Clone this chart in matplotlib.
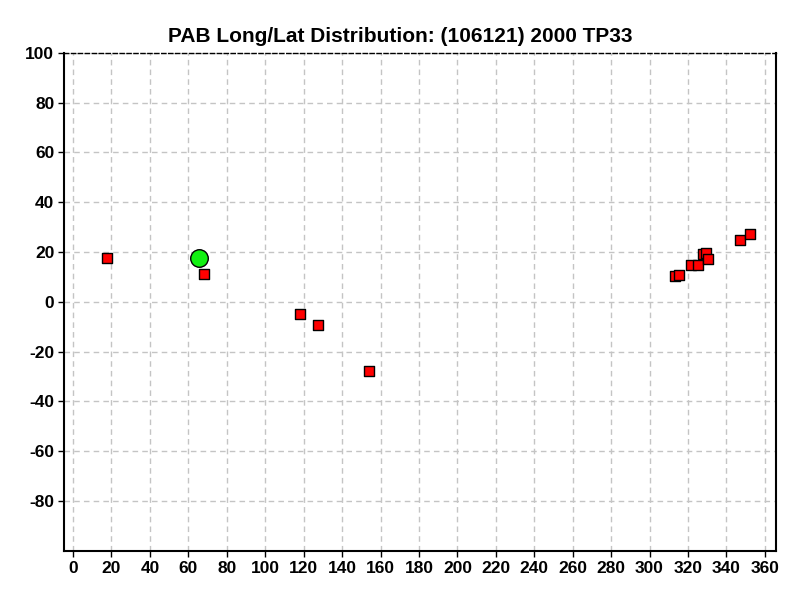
import matplotlib
matplotlib.use("Agg")
import matplotlib.pyplot as plt

plt.rcParams['font.family'] = ['Liberation Sans', 'DejaVu Sans']
plt.rcParams['axes.unicode_minus'] = False

# asteroid position (green) and PAB points (red)
obj_long = [65.6]
obj_lat = [17.7]

pab_long = [17.7, 68.2, 118.1, 127.5, 154.0,
            313.2, 315.5, 321.6, 325.3, 327.9, 329.2, 330.6, 347.1, 352.3]
pab_lat = [17.7, 11.2, -4.8, -9.2, -27.7,
           10.2, 10.8, 14.7, 14.7, 19.0, 19.6, 17.2, 24.9, 27.2]

x_ticks = list(range(0, 361, 20))
y_ticks = list(range(-80, 101, 20))

fig = plt.figure(figsize=(8, 6), dpi=100)
ax = fig.add_axes([0.08, 0.082, 0.89, 0.83])

ax.scatter(pab_long, pab_lat, marker='s', s=60, color='red',
           edgecolor='black', linewidth=1, zorder=3)
ax.scatter(obj_long, obj_lat, marker='o', s=160, color='#11f011',
           edgecolor='black', linewidth=1, zorder=4)

ax.set_xlim(-4.7, 365.8)
ax.set_ylim(-100, 100)
ax.set_xticks(x_ticks)
ax.set_yticks(y_ticks)
ax.tick_params(direction='out', length=4, width=1, labelsize=12.5, pad=3)
for lbl in ax.get_xticklabels() + ax.get_yticklabels():
    lbl.set_fontweight('bold')

ax.grid(True, linestyle=(0, (4, 3)), color='#c4c4c4', linewidth=1)
ax.set_axisbelow(True)

for side in ['left', 'bottom', 'right']:
    ax.spines[side].set_linewidth(1.5)
ax.spines['top'].set_linestyle((0, (3, 2)))
ax.spines['top'].set_linewidth(1)

fig.text(0.5, 0.94, 'PAB Long/Lat Distribution: (106121) 2000 TP33',
         fontsize=15, fontweight='bold', ha='center', va='center')

fig.savefig('out.png', dpi=100)
